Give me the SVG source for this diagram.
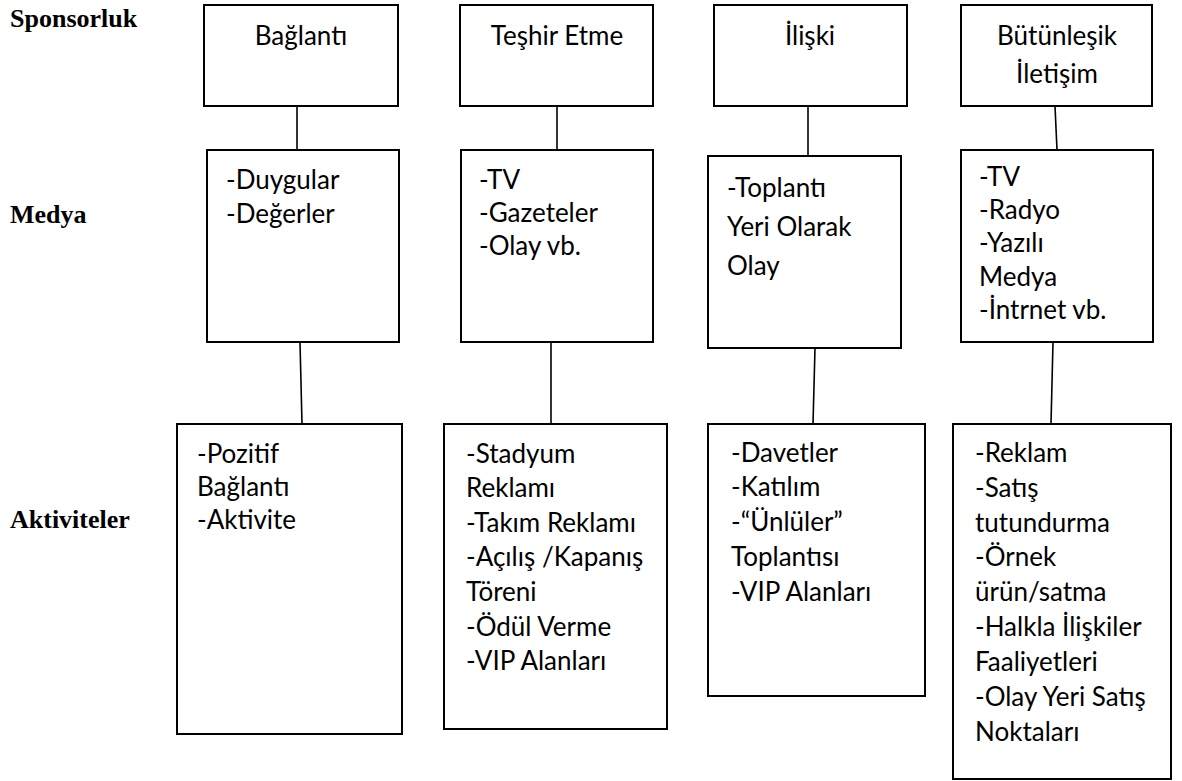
<svg xmlns="http://www.w3.org/2000/svg" width="1182" height="781" viewBox="0 0 1182 781">
  <style>
    .box { fill: #ffffff; stroke: #000000; stroke-width: 2; }
    .link { stroke: #000000; stroke-width: 1.6; fill: none; }
    .row { font-family: "Liberation Serif", "Times New Roman", serif; font-weight: bold; font-size: 26px; fill: #000; }
    .t { font-family: Lato, "Liberation Sans", sans-serif; font-size: 26px; fill: #000; }
    .c { text-anchor: middle; }
  </style>
  <rect width="1182" height="781" fill="#ffffff"/>

  <!-- row labels -->
  <g id="row-labels">
    <text class="row" x="10" y="27">Sponsorluk</text>
    <text class="row" x="10" y="223">Medya</text>
    <text class="row" x="10" y="528">Aktiviteler</text>
  </g>

  <!-- connectors between levels -->
  <g id="connectors">
    <line class="link" x1="297" y1="106" x2="297" y2="150"/>
    <line class="link" x1="557" y1="106" x2="557" y2="150"/>
    <line class="link" x1="808" y1="106" x2="808" y2="156"/>
    <line class="link" x1="1055" y1="106" x2="1057" y2="150"/>

    <line class="link" x1="300" y1="342" x2="302" y2="424"/>
    <line class="link" x1="551" y1="342" x2="551" y2="424"/>
    <line class="link" x1="815" y1="348" x2="813" y2="424"/>
    <line class="link" x1="1053" y1="342" x2="1051" y2="424"/>
  </g>

  <!-- sponsorship level -->
  <g id="sponsor-baglanti">
    <rect class="box" x="204" y="5" width="194" height="101"/>
    <text class="t c" x="301" y="45">Bağlantı</text>
  </g>
  <g id="sponsor-teshir">
    <rect class="box" x="460" y="5" width="193" height="101"/>
    <text class="t c" x="557" y="45">Teşhir Etme</text>
  </g>
  <g id="sponsor-iliski">
    <rect class="box" x="714" y="5" width="193" height="101"/>
    <text class="t c" x="810" y="45">İlişki</text>
  </g>
  <g id="sponsor-butunlesik">
    <rect class="box" x="961" y="5" width="191" height="101"/>
    <text class="t c" x="1057" y="45">Bütünleşik</text>
    <text class="t c" x="1057" y="83">İletişim</text>
  </g>

  <!-- media level -->
  <g id="media-baglanti">
    <rect class="box" x="207" y="150" width="192" height="192"/>
    <text class="t" x="226" y="189">-Duygular</text>
    <text class="t" x="226" y="223">-Değerler</text>
  </g>
  <g id="media-teshir">
    <rect class="box" x="461" y="150" width="192" height="192"/>
    <text class="t" x="479" y="189">-TV</text>
    <text class="t" x="479" y="222">-Gazeteler</text>
    <text class="t" x="479" y="255">-Olay vb.</text>
  </g>
  <g id="media-iliski">
    <rect class="box" x="708" y="156" width="193" height="192"/>
    <text class="t" x="727" y="197">-Toplantı</text>
    <text class="t" x="727" y="236">Yeri Olarak</text>
    <text class="t" x="727" y="275">Olay</text>
  </g>
  <g id="media-butunlesik">
    <rect class="box" x="961" y="150" width="192" height="192"/>
    <text class="t" x="979" y="186">-TV</text>
    <text class="t" x="979" y="219">-Radyo</text>
    <text class="t" x="979" y="252">-Yazılı</text>
    <text class="t" x="979" y="286">Medya</text>
    <text class="t" x="979" y="319">-İntrnet vb.</text>
  </g>

  <!-- activities level -->
  <g id="activity-baglanti">
    <rect class="box" x="177" y="424" width="225" height="310"/>
    <text class="t" x="197" y="463">-Pozitif</text>
    <text class="t" x="197" y="496">Bağlantı</text>
    <text class="t" x="197" y="529">-Aktivite</text>
  </g>
  <g id="activity-teshir">
    <rect class="box" x="444" y="424" width="223" height="305"/>
    <text class="t" x="466" y="463">-Stadyum</text>
    <text class="t" x="466" y="497">Reklamı</text>
    <text class="t" x="466" y="532">-Takım Reklamı</text>
    <text class="t" x="466" y="566">-Açılış /Kapanış</text>
    <text class="t" x="466" y="601">Töreni</text>
    <text class="t" x="466" y="636">-Ödül Verme</text>
    <text class="t" x="466" y="670">-VIP Alanları</text>
  </g>
  <g id="activity-iliski">
    <rect class="box" x="708" y="424" width="217" height="272"/>
    <text class="t" x="731" y="462">-Davetler</text>
    <text class="t" x="731" y="496">-Katılım</text>
    <text class="t" x="731" y="531">-“Ünlüler”</text>
    <text class="t" x="731" y="566">Toplantısı</text>
    <text class="t" x="731" y="601">-VIP Alanları</text>
  </g>
  <g id="activity-butunlesik">
    <rect class="box" x="953" y="424" width="218" height="355"/>
    <text class="t" x="975" y="462">-Reklam</text>
    <text class="t" x="975" y="497">-Satış</text>
    <text class="t" x="975" y="532">tutundurma</text>
    <text class="t" x="975" y="566">-Örnek</text>
    <text class="t" x="975" y="601">ürün/satma</text>
    <text class="t" x="975" y="636">-Halkla İlişkiler</text>
    <text class="t" x="975" y="671">Faaliyetleri</text>
    <text class="t" x="975" y="706">-Olay Yeri Satış</text>
    <text class="t" x="975" y="741">Noktaları</text>
  </g>
</svg>
